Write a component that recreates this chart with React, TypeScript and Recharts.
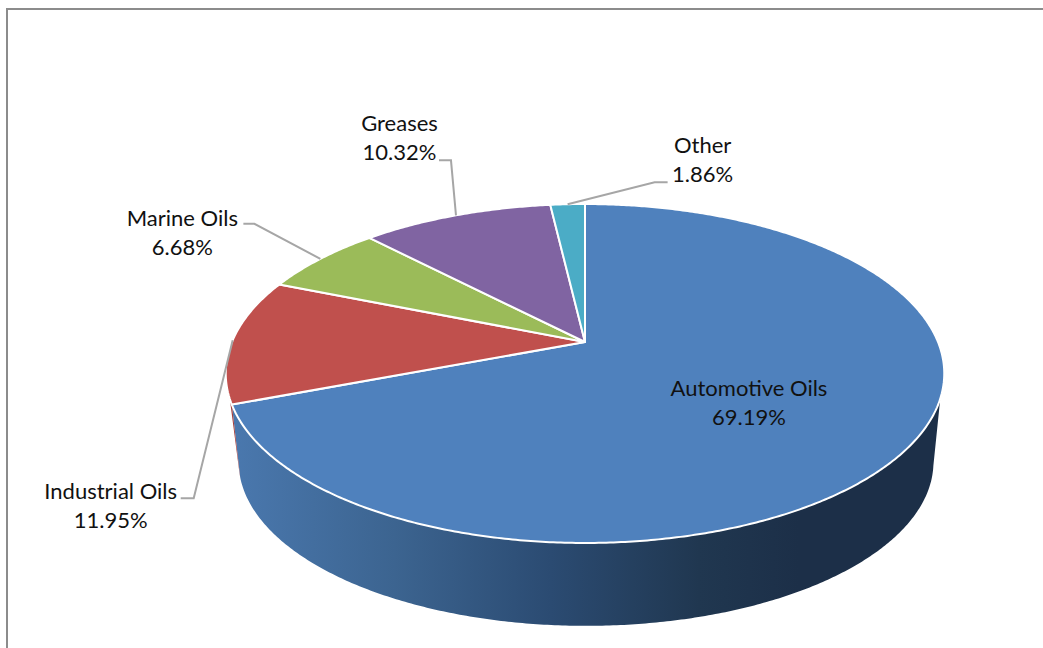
import React from "react";
import { PieChart, Pie, Cell } from "recharts";

const categories = ["Automotive Oils", "Industrial Oils", "Marine Oils", "Greases", "Other"];
const shares = [69.19, 11.95, 6.68, 10.32, 1.86];
const faceColors = ["#4f81bd", "#c0504d", "#9bbb59", "#8064a2", "#4bacc6"];
const wallColors = ["url(#wallShade)", "#a5403d", "#9bbb59", "#8064a2", "#4bacc6"];

const rows = categories.map((name, i) => ({ name, value: shares[i] }));

// Perspective of the tilted disc: vertical squash and foreshortening strength.
const SQUASH = 0.4635;
const FORESHORTEN = -0.1858;
// Extrusion of the lower rim, relative to the pie radius.
const RIM_SCALE = 0.967;
const RIM_DX = 0.003;
const RIM_DY = 0.2507;
const ELLIPSE_CENTRE_DY = 0.0892;
// Clockwise-from-top ranges of the wall that faces the viewer. The lower rim
// reaches its silhouette at slightly different angles from the upper rim.
const WALL_UPPER_FROM = 109;
const WALL_UPPER_TO = 251;
const WALL_LOWER_FROM = 102;
const WALL_LOWER_TO = 255.5;
const SEAM_SKEW = 5;

type Pt = [number, number];

// Maps a clockwise-from-top angle on the disc to screen space.
function project(cw: number, cx: number, cy: number, r: number): Pt {
  const t = (cw * Math.PI) / 180;
  const x = Math.sin(t);
  const y = -Math.cos(t);
  const d = 1 + FORESHORTEN * y;
  return [cx + (r * x) / d, cy + (r * SQUASH * y) / d];
}

function projectLower(cw: number, cx: number, cy: number, r: number): Pt {
  const [x, y] = project(cw, cx, cy, r);
  const midY = cy + r * ELLIPSE_CENTRE_DY;
  return [cx + r * RIM_DX + (x - cx) * RIM_SCALE, midY + r * RIM_DY + (y - midY) * RIM_SCALE];
}

function arc(from: number, to: number, fn: (a: number) => Pt): Pt[] {
  const steps = Math.max(2, Math.ceil(Math.abs(to - from) * 2));
  return Array.from({ length: steps + 1 }, (_, i) => fn(from + ((to - from) * i) / steps));
}

const toPath = (pts: Pt[]) =>
  "M" + pts.map(([x, y]) => `${x.toFixed(2)},${y.toFixed(2)}`).join("L") + "Z";

function FaceSlice(p: any) {
  const { cx, cy, outerRadius: r, startAngle, endAngle, fill } = p;
  const pts = arc(90 - startAngle, 90 - endAngle, (a) => project(a, cx, cy, r));
  return (
    <path
      d={toPath([[cx, cy], ...pts])}
      fill={fill}
      stroke="#ffffff"
      strokeWidth={2}
      strokeLinejoin="round"
    />
  );
}

function WallSlice(p: any) {
  const { cx, cy, outerRadius: r, startAngle, endAngle, fill } = p;
  const start = 90 - startAngle;
  const end = 90 - endAngle;
  const from = Math.max(start, WALL_UPPER_FROM);
  const to = Math.min(end, WALL_UPPER_TO);
  if (to <= from) return <g />;
  const lowFrom = start < WALL_UPPER_FROM ? WALL_LOWER_FROM : start + SEAM_SKEW;
  const lowTo = end > WALL_UPPER_TO ? WALL_LOWER_TO : end + SEAM_SKEW;
  const upper = arc(from, to, (a) => project(a, cx, cy, r));
  const lower = arc(lowTo, lowFrom, (a) => projectLower(a, cx, cy, r));
  return <path d={toPath([...upper, ...lower])} fill={fill} />;
}

// Label placement, as offsets from the point on the rim at each slice's mid angle.
const labelPlacement: Record<string, { tx: number; ty: number; leader?: Pt[] }> = {
  "Automotive Oils": { tx: -161, ty: -50 },
  "Industrial Oils": { tx: -122, ty: 159, leader: [[-39, 158], [-52, 158]] },
  "Marine Oils": { tx: -138, ty: -33, leader: [[-66, -35], [-77, -35]] },
  Greases: { tx: -56.5, ty: -84, leader: [[-5, -55], [-17, -55]] },
  Other: { tx: 135, ty: -51, leader: [[87, -22], [100, -22]] },
};

function SliceLabel(p: any) {
  const { cx, cy, outerRadius: r, midAngle, name, value } = p;
  const [ax, ay] = project(90 - midAngle, cx, cy, r);
  const place = labelPlacement[name];
  const common = {
    x: ax + place.tx,
    textAnchor: "middle" as const,
    fontFamily: "Lato, 'Open Sans', sans-serif",
    fontSize: 22,
    fill: "#111111",
  };
  return (
    <g>
      {place.leader && (
        <polyline
          points={[[ax, ay], ...place.leader.map(([dx, dy]) => [ax + dx, ay + dy])]
            .map((q) => q.join(","))
            .join(" ")}
          fill="none"
          stroke="#a6a6a6"
          strokeWidth={2}
        />
      )}
      <text {...common} y={ay + place.ty}>{name}</text>
      <text {...common} y={ay + place.ty + 29}>{`${value.toFixed(2)}%`}</text>
    </g>
  );
}

export default function App() {
  return (
    <div style={{ position: "absolute", left: 0, top: 0, width: 1043, height: 648, overflow: "hidden", background: "#fff" }}>
      <div style={{ position: "absolute", left: 6, top: 8, width: 1100, height: 700, border: "2px solid #8c8c8c", boxSizing: "border-box" }} />
      <div style={{ position: "absolute", left: 0, top: 0 }}>
        <PieChart width={1043} height={648} margin={{ top: 0, right: 0, bottom: 0, left: 0 }}>
          <defs>
            <linearGradient id="wallShade" x1="0" y1="0" x2="1" y2="0">
              <stop offset="0" stopColor="#4a78ae" />
              <stop offset="0.23" stopColor="#3c6490" />
              <stop offset="0.45" stopColor="#2b4b72" />
              <stop offset="0.66" stopColor="#203750" />
              <stop offset="0.8" stopColor="#1c2f48" />
              <stop offset="1" stopColor="#1c2f48" />
            </linearGradient>
          </defs>
          <Pie
            data={rows}
            dataKey="value"
            nameKey="name"
            cx={585}
            cy={342}
            outerRadius={353}
            startAngle={90}
            endAngle={-270}
            stroke="none"
            label={false}
            labelLine={false}
            shape={WallSlice}
            isAnimationActive={false}
          >
            {rows.map((row, i) => (
              <Cell key={row.name} fill={wallColors[i]} />
            ))}
          </Pie>
          <Pie
            data={rows}
            dataKey="value"
            nameKey="name"
            cx={585}
            cy={342}
            outerRadius={353}
            startAngle={90}
            endAngle={-270}
            stroke="none"
            label={SliceLabel}
            labelLine={false}
            shape={FaceSlice}
            isAnimationActive={false}
          >
            {rows.map((row, i) => (
              <Cell key={row.name} fill={faceColors[i]} />
            ))}
          </Pie>
        </PieChart>
      </div>
    </div>
  );
}
